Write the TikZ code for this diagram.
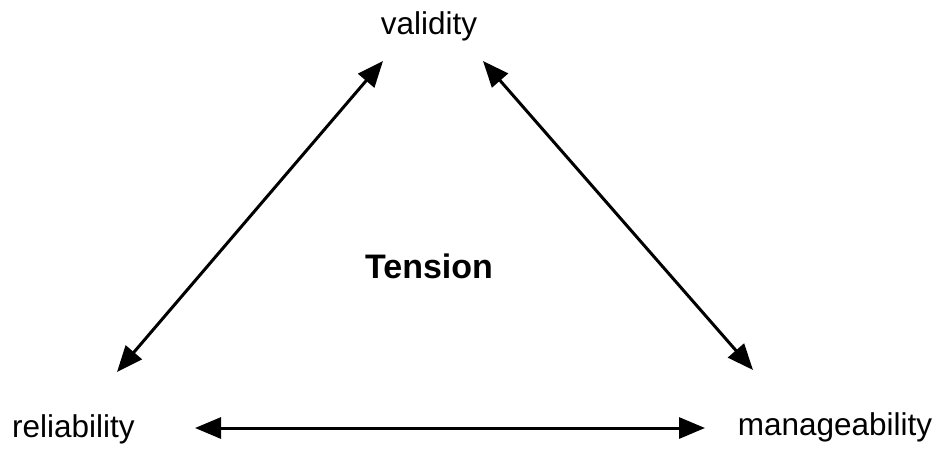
\documentclass[tikz,border=0pt]{standalone}
\usepackage{fontspec}
\setmainfont{Liberation Sans}
\usetikzlibrary{arrows.meta}
\begin{document}
\begin{tikzpicture}[x=1pt,y=-1pt,
  lbl/.style={inner sep=0pt,anchor=base,font=\fontsize{31.5}{36}\selectfont},
  tens/.style={inner sep=0pt,anchor=base,font=\fontsize{34}{40}\selectfont\bfseries},
  dbl/.style={line width=3pt,{Triangle[length=26pt,width=21pt]}-{Triangle[length=26pt,width=21pt]}}]
\useasboundingbox (0,0) rectangle (940,448);
\node[lbl] (val) at (429,34) {validity};
\node[lbl] (rel) at (73.5,437) {reliability};
\node[lbl] (man) at (835,435) {manageability};
\node[tens] (ten) at (429,278) {Tension};
\coordinate (vl) at (383,61);
\coordinate (vr) at (483,61);
\coordinate (bl) at (117,372);
\coordinate (br) at (753,370);
\coordinate (hl) at (195,428);
\coordinate (hr) at (705,428);
\draw[dbl] (vl) -- (bl);
\draw[dbl] (vr) -- (br);
\draw[dbl] (hl) -- (hr);
\end{tikzpicture}
\end{document}
